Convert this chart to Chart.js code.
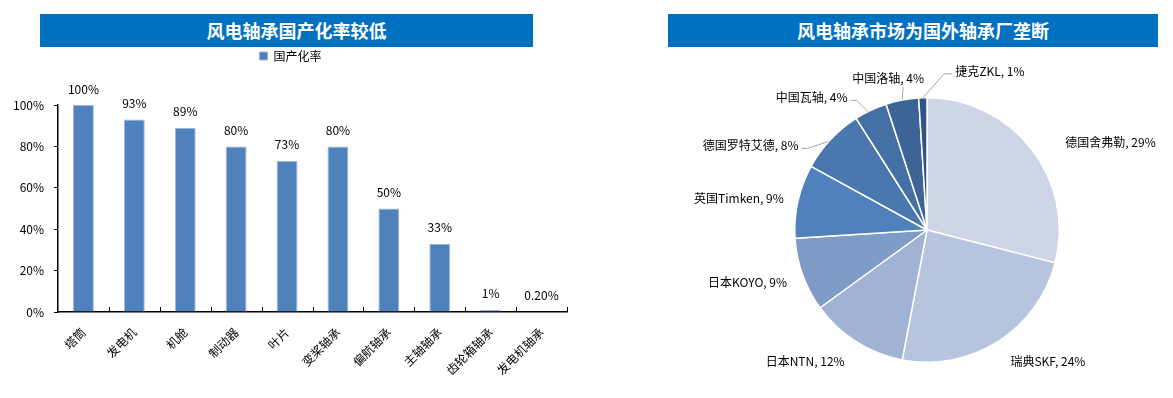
<!DOCTYPE html>
<html>
<head>
<meta charset="utf-8">
<script src="https://cdn.jsdelivr.net/npm/chart.js@4.4.0/dist/chart.umd.min.js"></script>
<style>
  body { margin: 0; background: #fff; width: 1173px; height: 398px; position: relative; overflow: hidden; font-family: "Noto Sans CJK SC", sans-serif; }
  .banner { position: absolute; top: 14px; height: 33px; background: #0070c0; color: #fff; font-weight: bold; font-size: 18px; line-height: 33px; text-align: center; box-sizing: border-box; padding-left: 20px; }
  canvas { position: absolute; }
</style>
</head>
<body>
<div class="banner" style="left:40px;width:493px">风电轴承国产化率较低</div>
<div class="banner" style="left:668px;width:490px">风电轴承市场为国外轴承厂垄断</div>
<canvas id="barChart" style="left:0;top:47px" width="580" height="351"></canvas>
<canvas id="pieChart" style="left:600px;top:47px" width="573" height="351"></canvas>
<script>
// left: localisation rate
const parts = ['塔筒', '发电机', '机舱', '制动器', '叶片', '变桨轴承', '偏航轴承', '主轴轴承', '齿轮箱轴承', '发电机轴承'];
const localRate = [100, 93, 89, 80, 73, 80, 50, 33, 1, 0.2];
const yTicks = [0, 20, 40, 60, 80, 100];

// right: market share
const makers = ['德国舍弗勒', '瑞典SKF', '日本NTN', '日本KOYO', '英国Timken', '德国罗特艾德', '中国瓦轴', '中国洛轴', '捷克ZKL'];
const share = [29, 24, 12, 9, 9, 8, 4, 4, 1];
const sliceColors = ['#cdd6e7', '#b6c4de', '#a1b3d4', '#7f9cc7', '#4f81bd', '#4a77ae', '#4470a4', '#3d6496', '#2f5586'];

const FONT = '"Noto Sans CJK SC", sans-serif';
Chart.defaults.font.family = FONT;
Chart.defaults.font.size = 12;
Chart.defaults.color = '#000';

const fmtPct = v => (v < 1 ? v.toFixed(2) : String(v)) + '%';

// legend block height (pushes chart area down)
const legendHeight = {
  id: 'legendHeight',
  beforeInit(chart) {
    const fit = chart.legend.fit;
    chart.legend.fit = function () { fit.bind(chart.legend)(); this.height = 58; };
  }
};

// value labels above bars + inward category ticks on x axis
const barExtras = {
  id: 'barExtras',
  afterDatasetsDraw(chart) {
    const ctx = chart.ctx;
    const x = chart.scales.x;
    ctx.save();
    ctx.font = '12px ' + FONT;
    ctx.fillStyle = '#000';
    ctx.textAlign = 'center';
    ctx.textBaseline = 'bottom';
    chart.getDatasetMeta(0).data.forEach((bar, i) => {
      ctx.fillText(fmtPct(localRate[i]), bar.x, bar.y - 10);
    });
    ctx.strokeStyle = '#000';
    ctx.lineWidth = 1;
    const step = (x.right - x.left) / parts.length;
    for (let i = 1; i <= parts.length; i++) {
      const px = Math.round(x.left + step * i) + 0.5;
      ctx.beginPath();
      ctx.moveTo(px, x.top);
      ctx.lineTo(px, x.top - 5);
      ctx.stroke();
    }
    ctx.restore();
  }
};

new Chart(document.getElementById('barChart'), {
  type: 'bar',
  data: {
    labels: parts,
    datasets: [{
      label: '国产化率',
      data: localRate,
      backgroundColor: '#4f81bd',
      borderColor: '#9fb8da',
      borderWidth: 1,
      barPercentage: 0.41,
      categoryPercentage: 1
    }]
  },
  options: {
    responsive: false,
    animation: false,
    layout: { padding: { left: 14, right: 13, top: 0, bottom: 0 } },
    plugins: {
      legend: {
        position: 'top',
        align: 'center',
        labels: { boxWidth: 8, boxHeight: 8, padding: 3, font: { size: 12 }, color: '#000' }
      },
      tooltip: { enabled: false }
    },
    scales: {
      x: {
        grid: { display: false },
        border: { color: '#000', width: 1.5 },
        ticks: { minRotation: 45, maxRotation: 45, padding: 5, font: { size: 12 }, color: '#000' },
        afterFit(s) { s.height = 86; }
      },
      y: {
        min: 0,
        max: 100,
        afterBuildTicks(s) { s.ticks = yTicks.map(v => ({ value: v })); },
        grid: { drawOnChartArea: false, drawTicks: true, tickLength: 4, color: '#000' },
        border: { color: '#000', width: 1.5 },
        ticks: { callback: v => v + '%', padding: 10, font: { size: 12 }, color: '#000' },
        afterFit(s) { s.width = 44; }
      }
    }
  },
  plugins: [legendHeight, barExtras]
});

// pie labels; offsets are relative to the slice's outer edge at its mid angle
const pieLabelOffsets = [[79, -7], [50, 20], [-51, 20], [-55, 8], [-59, -3], [-80, 6], [-59, -13], [-14, -22], [67, -26]];
const pieLeaders = [false, false, false, false, false, true, true, true, true];

const pieLabels = {
  id: 'pieLabels',
  afterDatasetsDraw(chart) {
    const ctx = chart.ctx;
    ctx.save();
    ctx.font = '12px ' + FONT;
    ctx.fillStyle = '#000';
    ctx.textBaseline = 'middle';
    ctx.textAlign = 'center';
    ctx.strokeStyle = '#a6a6a6';
    ctx.lineWidth = 1;
    chart.getDatasetMeta(0).data.forEach((arc, i) => {
      const mid = (arc.startAngle + arc.endAngle) / 2;
      const ex = arc.x + Math.cos(mid) * arc.outerRadius;
      const ey = arc.y + Math.sin(mid) * arc.outerRadius;
      const tx = ex + pieLabelOffsets[i][0];
      const ty = ey + pieLabelOffsets[i][1];
      const text = makers[i] + ', ' + share[i] + '%';
      ctx.fillText(text, tx, ty);
      if (pieLeaders[i]) {
        const w = ctx.measureText(text).width;
        let sx, sy;
        if (Math.abs(pieLabelOffsets[i][0]) < 25) {
          sx = tx + 15; sy = ty + 9;
          ctx.beginPath(); ctx.moveTo(sx, sy); ctx.lineTo(ex, ey - 1); ctx.stroke();
        } else if (tx > ex) {
          sx = tx - w / 2 - 3; sy = ty + 2;
          ctx.beginPath(); ctx.moveTo(sx, sy); ctx.lineTo(sx - 8, sy); ctx.lineTo(ex, ey); ctx.stroke();
        } else {
          sx = tx + w / 2 + 3; sy = ty + 3;
          ctx.beginPath(); ctx.moveTo(sx, sy); ctx.lineTo(sx + 6, sy); ctx.lineTo(ex - 2, ey + 2); ctx.stroke();
        }
      }
    });
    ctx.restore();
  }
};

new Chart(document.getElementById('pieChart'), {
  type: 'pie',
  data: {
    labels: makers,
    datasets: [{
      data: share,
      backgroundColor: sliceColors,
      borderColor: '#fff',
      borderWidth: 1.5
    }]
  },
  options: {
    responsive: false,
    animation: false,
    layout: { padding: { left: 194, right: 113, top: 50, bottom: 35 } },
    plugins: { legend: { display: false }, tooltip: { enabled: false } }
  },
  plugins: [pieLabels]
});
</script>
</body>
</html>
